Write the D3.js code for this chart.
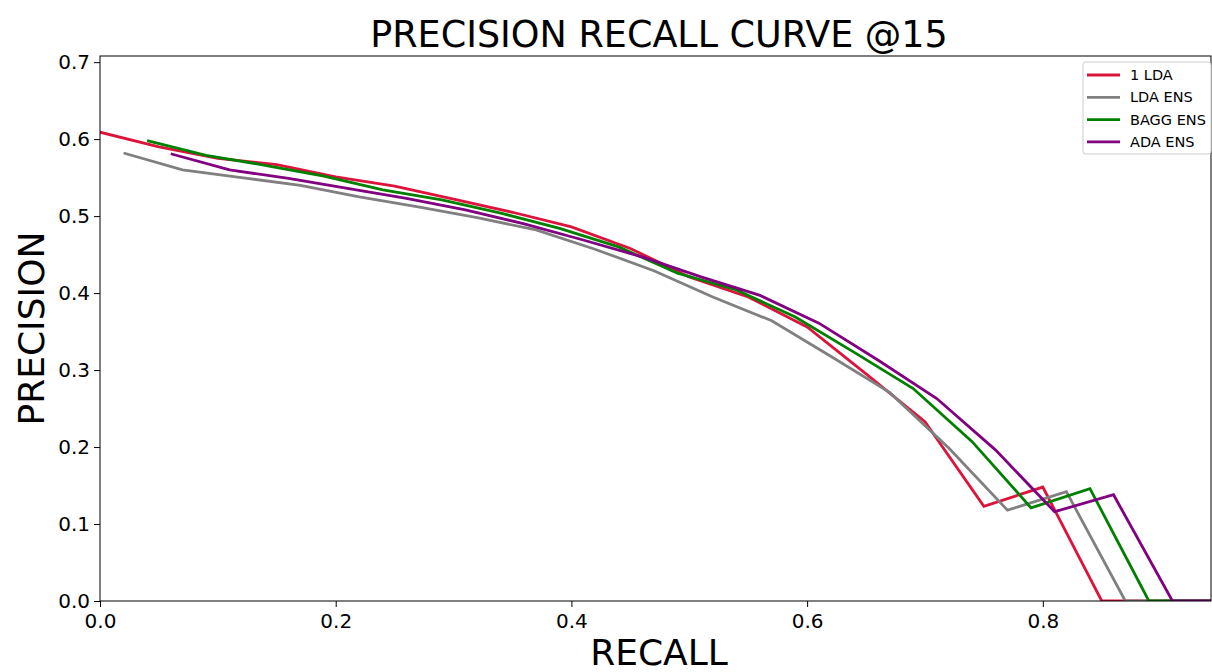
<!DOCTYPE html>
<meta charset="utf-8">
<style>
body { margin: 0; background: #fff; }
text { font-family: "DejaVu Sans", sans-serif; fill: #000; }
</style>
<script src="https://d3js.org/d3.v7.min.js"></script>
<div id="chart"></div>
<script>
// recall steps of 0.05, each ensemble shifted by 0.02
const recallLda  = [0, 0.05, 0.10, 0.15, 0.20, 0.25, 0.30, 0.35, 0.40, 0.45, 0.50, 0.55, 0.60, 0.65, 0.70, 0.75, 0.80, 0.85, 0.90, 0.95];
const precLda    = [0.609, 0.590, 0.575, 0.567, 0.551, 0.539, 0.522, 0.505, 0.486, 0.458, 0.421, 0.395, 0.356, 0.295, 0.233, 0.123, 0.148, 0, 0, 0];
const recallEns  = [0.02, 0.07, 0.12, 0.17, 0.22, 0.27, 0.32, 0.37, 0.42, 0.47, 0.52, 0.57, 0.62, 0.67, 0.72, 0.77, 0.82, 0.87, 0.92, 0.97];
const precEns    = [0.582, 0.560, 0.550, 0.540, 0.525, 0.512, 0.498, 0.482, 0.457, 0.429, 0.395, 0.364, 0.318, 0.271, 0.199, 0.118, 0.142, 0, 0, 0];
const recallBagg = [0.04, 0.09, 0.14, 0.19, 0.24, 0.29, 0.34, 0.39, 0.44, 0.49, 0.54, 0.59, 0.64, 0.69, 0.74, 0.79, 0.84, 0.89, 0.94, 0.99];
const precBagg   = [0.598, 0.579, 0.566, 0.552, 0.534, 0.521, 0.504, 0.484, 0.460, 0.426, 0.404, 0.369, 0.323, 0.276, 0.207, 0.121, 0.146, 0, 0, 0];
const recallAda  = [0.06, 0.11, 0.16, 0.21, 0.26, 0.31, 0.36, 0.41, 0.46, 0.51, 0.56, 0.61, 0.66, 0.71, 0.76, 0.81, 0.86, 0.91, 0.96];
const precAda    = [0.581, 0.560, 0.549, 0.536, 0.523, 0.508, 0.490, 0.469, 0.447, 0.421, 0.397, 0.361, 0.313, 0.263, 0.196, 0.116, 0.138, 0, 0];

const seriesNames = ["1 LDA", "LDA ENS", "BAGG ENS", "ADA ENS"];
const seriesColors = ["#dc143c", "#808080", "#008000", "#800080"];
const xTicks = [0, 0.2, 0.4, 0.6, 0.8];
const yTicks = [0, 0.1, 0.2, 0.3, 0.4, 0.5, 0.6, 0.7];

const series = [
  {name: seriesNames[0], color: seriesColors[0], xs: recallLda,  ys: precLda},
  {name: seriesNames[1], color: seriesColors[1], xs: recallEns,  ys: precEns},
  {name: seriesNames[2], color: seriesColors[2], xs: recallBagg, ys: precBagg},
  {name: seriesNames[3], color: seriesColors[3], xs: recallAda,  ys: precAda}
];

const W = 1212, H = 672;
const margin = {top: 56, right: 1, bottom: 71, left: 100},
    width = W - margin.left - margin.right,
    height = H - margin.top - margin.bottom;

const svg = d3.select("#chart").append("svg")
    .attr("width", W).attr("height", H);

const g = svg.append("g")
    .attr("transform", `translate(${margin.left},${margin.top})`);

const x = d3.scaleLinear().domain([0, 0.9427]).range([0, width]);
const y = d3.scaleLinear().domain([0, 0.708]).range([height, 0]);

g.append("clipPath").attr("id", "clip")
  .append("rect").attr("width", width).attr("height", height);

// lines
const line = d3.line()
    .x(d => x(d[0]))
    .y(d => y(d[1]));

series.forEach(s => {
  g.append("path")
    .datum(s.xs.map((v, i) => [v, s.ys[i]]))
    .attr("clip-path", "url(#clip)")
    .attr("fill", "none")
    .attr("stroke", s.color)
    .attr("stroke-width", 2.8)
    .attr("stroke-linejoin", "miter")
    .attr("d", line);
});

// axes
const xAxis = g.append("g")
    .attr("transform", `translate(0,${height})`)
    .call(d3.axisBottom(x).tickValues(xTicks).tickFormat(d3.format(".1f")).tickSizeOuter(0).tickSize(6).tickPadding(4));
const yAxis = g.append("g")
    .call(d3.axisLeft(y).tickValues(yTicks).tickFormat(d3.format(".1f")).tickSizeOuter(0).tickSize(6).tickPadding(4));
[xAxis, yAxis].forEach(a => {
  a.selectAll("text").style("font-size", "20px").style("font-family", "DejaVu Sans");
  a.selectAll("line").attr("stroke", "#000").attr("stroke-width", 1);
  a.select(".domain").remove();
});
xAxis.selectAll("text").attr("dy", "0.85em");

// frame
g.append("rect")
    .attr("width", width).attr("height", height)
    .attr("fill", "none").attr("stroke", "#000").attr("stroke-width", 1);

// title and labels
svg.append("text")
    .attr("x", margin.left + 559).attr("y", 47)
    .attr("text-anchor", "middle")
    .style("font-size", "36.5px")
    .text("PRECISION RECALL CURVE @15");

svg.append("text")
    .attr("x", margin.left + 559).attr("y", 665)
    .attr("text-anchor", "middle")
    .style("font-size", "36px")
    .text("RECALL");

svg.append("text")
    .attr("transform", `translate(44,${margin.top + height / 2}) rotate(-90)`)
    .attr("text-anchor", "middle")
    .style("font-size", "36px")
    .text("PRECISION");

// legend
const legend = svg.append("g").attr("transform", "translate(1083,62)");
legend.append("rect")
    .attr("width", 128).attr("height", 92)
    .attr("rx", 3)
    .attr("fill", "#fff").attr("stroke", "#ccc").attr("stroke-width", 1);
series.forEach((s, i) => {
  const row = legend.append("g").attr("transform", `translate(0,${13 + i * 22.3})`);
  row.append("line")
    .attr("x1", 4).attr("x2", 37)
    .attr("stroke", s.color).attr("stroke-width", 2.8);
  row.append("text")
    .attr("x", 47).attr("dy", "0.35em")
    .style("font-size", "14.5px")
    .text(s.name);
});
</script>
